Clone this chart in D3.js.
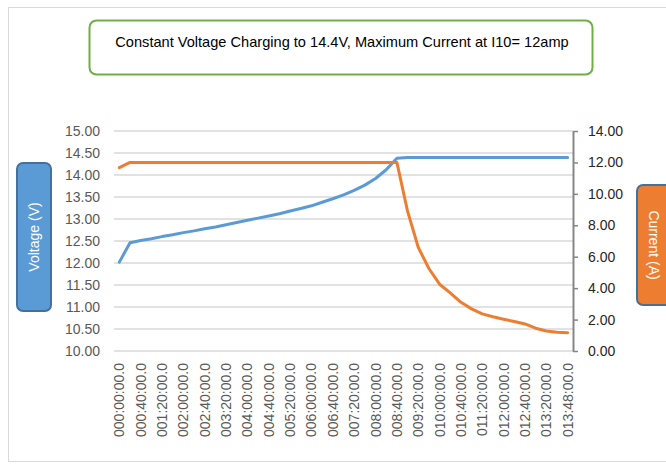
<!DOCTYPE html>
<meta charset="utf-8">

<!-- Load d3.js -->
<script src="https://d3js.org/d3.v7.min.js"></script>

<style>
  body { margin: 0; background: #fff; }
  text { font-family: "Liberation Sans", Arial, sans-serif; }
</style>

<!-- Create a div where the graph will take place -->
<div id="my_dataviz"></div>

<script>

// chart data: time stamps (every 20 min, last one at 13:48)
var times = ["000:00:00.0", "000:20:00.0", "000:40:00.0", "001:00:00.0", "001:20:00.0", "001:40:00.0",
  "002:00:00.0", "002:20:00.0", "002:40:00.0", "003:00:00.0", "003:20:00.0", "003:40:00.0",
  "004:00:00.0", "004:20:00.0", "004:40:00.0", "005:00:00.0", "005:20:00.0", "005:40:00.0",
  "006:00:00.0", "006:20:00.0", "006:40:00.0", "007:00:00.0", "007:20:00.0", "007:40:00.0",
  "008:00:00.0", "008:20:00.0", "008:40:00.0", "009:00:00.0", "009:20:00.0", "009:40:00.0",
  "010:00:00.0", "010:20:00.0", "010:40:00.0", "011:00:00.0", "011:20:00.0", "011:40:00.0",
  "012:00:00.0", "012:20:00.0", "012:40:00.0", "013:00:00.0", "013:20:00.0", "013:40:00.0",
  "013:48:00.0"];

// battery voltage (V), left axis
var voltage = [12.02, 12.46, 12.51, 12.55, 12.60, 12.64, 12.69, 12.73, 12.78, 12.82, 12.87, 12.92,
  12.97, 13.02, 13.07, 13.12, 13.18, 13.24, 13.30, 13.38, 13.46, 13.55, 13.65, 13.77,
  13.92, 14.12, 14.38, 14.40, 14.40, 14.40, 14.40, 14.40, 14.40, 14.40, 14.40, 14.40,
  14.40, 14.40, 14.40, 14.40, 14.40, 14.40, 14.40];

// charging current (A), right axis
var current = [11.67, 12.00, 12.00, 12.00, 12.00, 12.00, 12.00, 12.00, 12.00, 12.00, 12.00, 12.00,
  12.00, 12.00, 12.00, 12.00, 12.00, 12.00, 12.00, 12.00, 12.00, 12.00, 12.00, 12.00,
  12.00, 12.00, 12.00, 8.90, 6.60, 5.25, 4.25, 3.70, 3.10, 2.68, 2.36, 2.18,
  2.02, 1.88, 1.72, 1.45, 1.27, 1.20, 1.16];

// tick values
var voltTicks = [10, 10.5, 11, 11.5, 12, 12.5, 13, 13.5, 14, 14.5, 15];
var ampTicks = [0, 2, 4, 6, 8, 10, 12, 14];

var title = "Constant Voltage Charging to 14.4V, Maximum Current at I10= 12amp";

// dimensions
var W = 666, H = 464;
var plot = {left: 114, right: 573, top: 131, bottom: 351};

var svg = d3.select("#my_dataviz")
  .append("svg")
    .attr("width", W)
    .attr("height", H);

svg.append("rect")
  .attr("width", W).attr("height", H)
  .style("fill", "#fff");

// outer chart frame
svg.append("rect")
  .attr("x", 8.5).attr("y", 7.5)
  .attr("width", 700).attr("height", 454)
  .style("fill", "none")
  .style("stroke", "#d9d9d9")
  .style("stroke-width", 1);

// scales
var x = d3.scaleBand()
  .domain(times)
  .range([plot.left, plot.right])
  .padding(0);

var yV = d3.scaleLinear()
  .domain([10, 15])
  .range([plot.bottom, plot.top]);

var yA = d3.scaleLinear()
  .domain([0, 14])
  .range([plot.bottom, plot.top]);

var cx = function(i) { return x(times[i]) + x.bandwidth() / 2; };

// gridlines
svg.append("g")
  .selectAll("line")
  .data(voltTicks)
  .enter()
  .append("line")
    .attr("x1", plot.left)
    .attr("x2", plot.right)
    .attr("y1", function(d) { return yV(d); })
    .attr("y2", function(d) { return yV(d); })
    .style("stroke", "#d9d9d9")
    .style("stroke-width", 1.5);

// left axis
var gLeft = svg.append("g")
  .attr("transform", "translate(" + plot.left + ",0)")
  .call(d3.axisLeft(yV).tickValues(voltTicks).tickSize(0).tickPadding(14)
    .tickFormat(d3.format(".2f")));
gLeft.select(".domain").remove();
gLeft.selectAll("text")
  .style("font-size", "14px")
  .style("fill", "#595959");

// right axis
var gRight = svg.append("g")
  .attr("transform", "translate(" + plot.right + ",0)")
  .call(d3.axisRight(yA).tickValues(ampTicks).tickSize(5).tickSizeOuter(0).tickPadding(10)
    .tickFormat(d3.format(".2f")));
gRight.select(".domain").style("stroke", "#868686").style("stroke-width", 2);
gRight.selectAll("line").style("stroke", "#868686").style("stroke-width", 1.5);
gRight.selectAll("text")
  .style("font-size", "14px")
  .style("fill", "#262626");

// category labels, every second one, rotated
svg.append("g")
  .selectAll("text")
  .data(times.filter(function(d, i) { return i % 2 === 0; }))
  .enter()
  .append("text")
    .attr("transform", function(d) {
      return "translate(" + (x(d) + x.bandwidth() / 2 + 5) + ",363) rotate(-90)";
    })
    .attr("text-anchor", "end")
    .style("font-size", "14px")
    .style("fill", "#595959")
    .text(function(d) { return d; });

// lines
var lineV = d3.line()
  .x(function(d, i) { return cx(i); })
  .y(function(d) { return yV(d); });

var lineA = d3.line()
  .x(function(d, i) { return cx(i); })
  .y(function(d) { return yA(d); });

svg.append("path")
  .datum(voltage)
  .attr("d", lineV)
  .style("fill", "none")
  .style("stroke", "#5b9bd5")
  .style("stroke-width", 3)
  .style("stroke-linejoin", "round")
  .style("stroke-linecap", "round");

svg.append("path")
  .datum(current)
  .attr("d", lineA)
  .style("fill", "none")
  .style("stroke", "#ed7d31")
  .style("stroke-width", 3)
  .style("stroke-linejoin", "round")
  .style("stroke-linecap", "round");

// title box
svg.append("rect")
  .attr("x", 89.5).attr("y", 20.5)
  .attr("width", 503).attr("height", 54)
  .attr("rx", 7).attr("ry", 7)
  .style("fill", "#fff")
  .style("stroke", "#70ad47")
  .style("stroke-width", 2);

svg.append("text")
  .attr("x", 342).attr("y", 47)
  .attr("text-anchor", "middle")
  .style("font-size", "14.6px")
  .style("fill", "#000")
  .text(title);

// axis title boxes
svg.append("rect")
  .attr("x", 17).attr("y", 163)
  .attr("width", 34).attr("height", 148)
  .attr("rx", 6).attr("ry", 6)
  .style("fill", "#5b9bd5")
  .style("stroke", "#41719c")
  .style("stroke-width", 2);

svg.append("text")
  .attr("transform", "translate(34,237) rotate(-90)")
  .attr("text-anchor", "middle")
  .attr("dominant-baseline", "central")
  .style("font-size", "14px")
  .style("fill", "#fff")
  .text("Voltage (V)");

svg.append("rect")
  .attr("x", 637).attr("y", 185)
  .attr("width", 40).attr("height", 120)
  .attr("rx", 6).attr("ry", 6)
  .style("fill", "#ed7d31")
  .style("stroke", "#41719c")
  .style("stroke-width", 2);

svg.append("text")
  .attr("transform", "translate(654,245) rotate(90)")
  .attr("text-anchor", "middle")
  .attr("dominant-baseline", "central")
  .style("font-size", "14px")
  .style("fill", "#fff")
  .text("Current (A)");

</script>
